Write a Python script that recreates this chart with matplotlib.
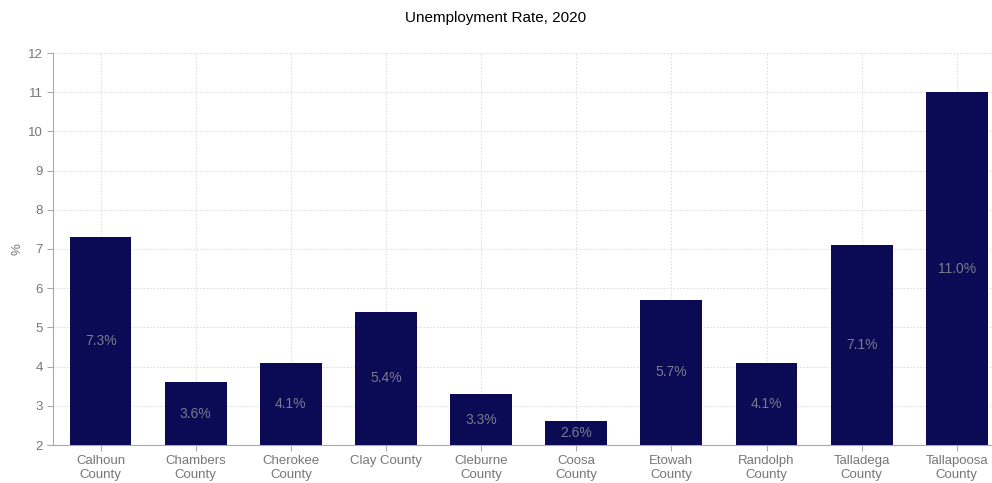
import matplotlib.pyplot as plt

counties = ["Calhoun\nCounty", "Chambers\nCounty", "Cherokee\nCounty", "Clay County",
            "Cleburne\nCounty", "Coosa\nCounty", "Etowah\nCounty", "Randolph\nCounty",
            "Talladega\nCounty", "Tallapoosa\nCounty"]
rates = [7.3, 3.6, 4.1, 5.4, 3.3, 2.6, 5.7, 4.1, 7.1, 11.0]
y_ticks = list(range(2, 13))

plt.rcParams['font.family'] = ['Liberation Sans', 'DejaVu Sans']

fig = plt.figure(figsize=(9.92, 4.83), dpi=100)
W, H = 992, 483
ax = fig.add_axes([53 / W, 1 - 445 / H, (992 - 53) / W, (445 - 53) / H])

x = range(len(counties))
bars = ax.bar(x, [r - 2 for r in rates], bottom=2, width=0.65, color="#0a0a55", zorder=3)
for xi, r in zip(x, rates):
    ax.text(xi, (2 + r) / 2, f"{r:.1f}%", ha="center", va="center",
            color="#7a7a8c", fontsize=10, zorder=4)

ax.set_ylim(2, 12)
ax.set_xlim(-0.5, 9.37)
ax.set_yticks(y_ticks)
ax.set_xticks(list(x))
ax.set_xticklabels(counties)
ax.grid(True, color="#e0e0e0", linestyle=(0, (1.5, 1.5)), linewidth=0.8, zorder=0)
for s in ["top", "right"]:
    ax.spines[s].set_visible(False)
for s in ["left", "bottom"]:
    ax.spines[s].set_color("#aaaaaa")
ax.tick_params(colors="#aaaaaa", labelcolor="#777777", labelsize=9.5, length=4)
ax.tick_params(axis="x", pad=3)
ax.set_ylabel("%", color="#777777", fontsize=9.5, labelpad=3)

fig.suptitle("Unemployment Rate, 2020", y=1 - 18 / H, va="center", fontsize=11)

fig.savefig("out.png", dpi=100)
